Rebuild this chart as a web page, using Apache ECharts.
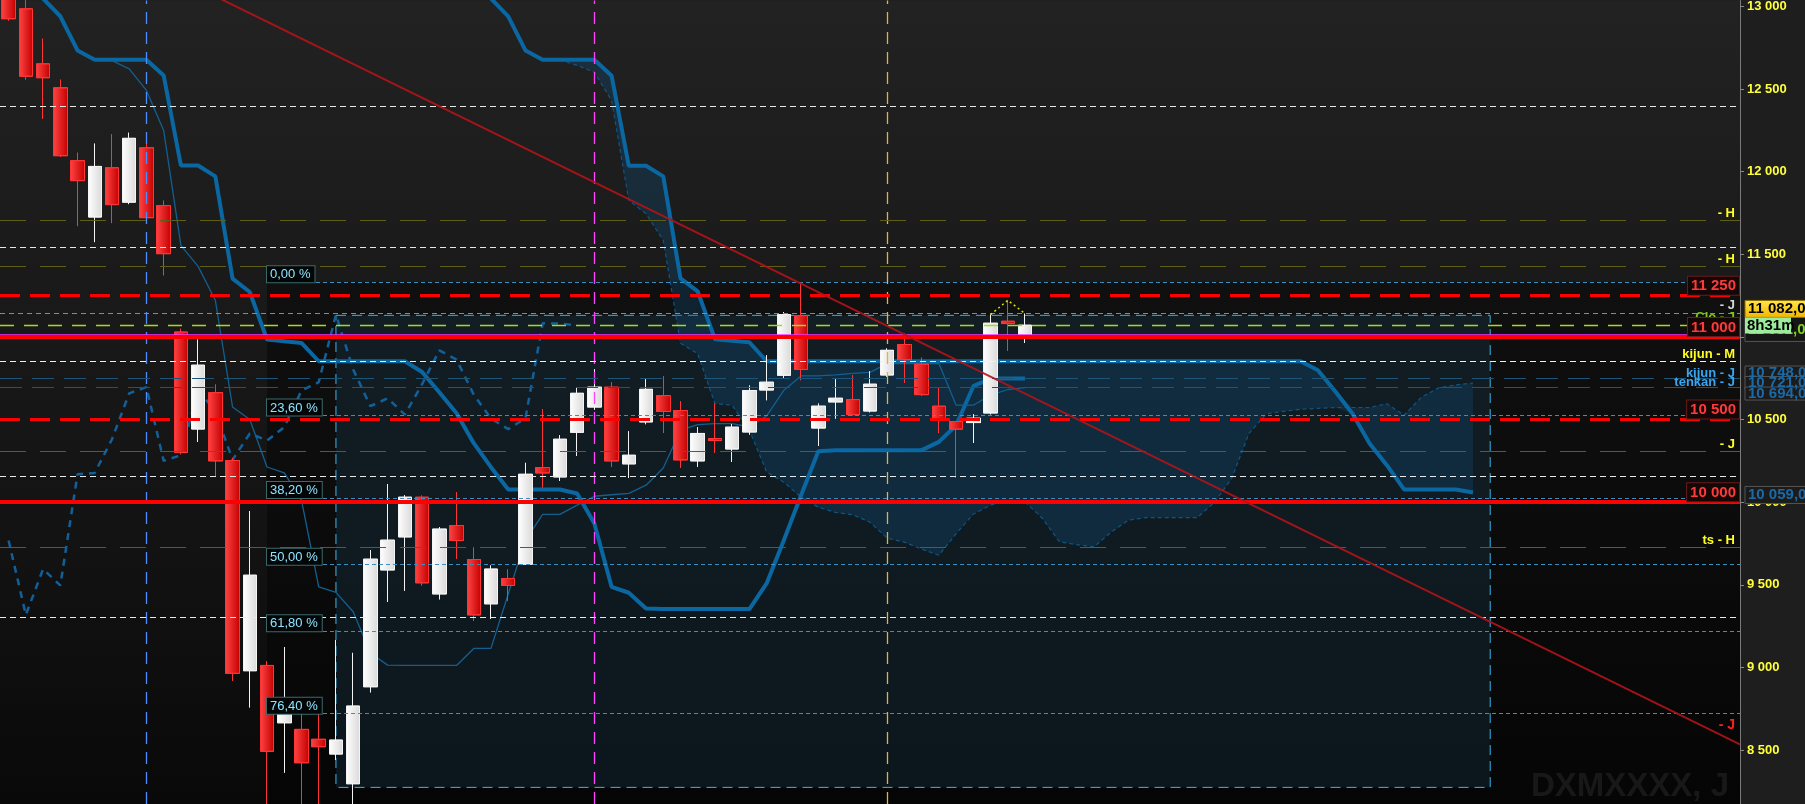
<!DOCTYPE html>
<html><head><meta charset="utf-8">
<script src="https://cdn.jsdelivr.net/npm/echarts@6/dist/echarts.min.js"></script>
<style>html,body{margin:0;padding:0;background:#1e1e1e;overflow:hidden}#c{width:1805px;height:804px;}</style>
</head><body><div id="c"></div>
<script>
// ---------------- DATA ----------------
const opens  = [13120,12986,12653,12508,12067,11726,12024,11816,12145,11795,11030,10443,10663,10252,8980,9012,8665,8625,8565,8476,8296,8883,9590,9790,10030,9445,9859,9653,9385,9538,9625,10210,10153,10423,10576,10696,10232,10486,10645,10555,10250,10385,10322,10425,10679,10768,11129,10449,10607,10621,10552,10770,10954,10835,10581,10488,10482,10540,11095,11000];
const highs  = [13160,13060,12805,12557,12115,12170,12226,12236,12173,11825,11050,10984,10712,10268,9946,9038,9123,8720,8720,9165,9088,9710,10109,10042,10040,9849,10061,9726,9617,9593,10238,10562,10405,10690,10804,10726,10429,10744,10762,10611,10455,10597,10472,10706,10889,11151,11329,10597,10744,10768,10792,10930,11020,10875,10696,10490,10532,11135,11222,11141];
const lows   = [12915,12558,12321,12089,11671,11574,11689,11804,11695,11373,10290,10365,10153,8919,8758,8050,8363,7913,8080,8440,8120,8849,9397,9464,9496,9412,9657,9282,9294,9403,9620,10089,10129,10280,10560,10214,10147,10472,10419,10207,10214,10298,10244,10409,10617,10746,10738,10341,10506,10525,10544,10760,10722,10645,10419,10149,10359,10532,10915,10964];
const closes = [12926,12578,12569,12097,11946,12032,11801,12202,11722,11504,10301,10829,10250,8964,9558,8492,8718,8423,8520,8560,8766,9655,9770,10030,9512,9837,9768,9318,9595,9496,10169,10177,10381,10659,10696,10250,10284,10683,10549,10256,10416,10373,10454,10676,10726,11135,10803,10581,10629,10530,10714,10919,10863,10651,10506,10442,10508,11083,11081,11071];

const kijun = [13300,13150,13048,12941,12734,12678,12678,12678,12678,12583,12038,12038,11972,11353,11272,10984,10974,10964,10853,10853,10853,10853,10853,10853,10788,10665,10538,10357,10212,10077,10077,10077,10077,10053,9871,9488,9452,9357,9353,9353,9353,9353,9353,9353,9508,9770,10042,10308,10315,10315,10315,10315,10315,10315,10365,10466,10702,10748,10748,10748];
const tenkanStart = 6;
const tenkan = [12672,12623,12492,12250,11554,11427,11222,10576,10500,10213,10177,10012,9488,9454,9337,9087,9014,9012,9012,9012,9012,9115,9115,9444,9770,9926,9926,9982,10036,10045,10053,10103,10207,10436,10470,10475,10476,10455,10522,10677,10764,10764,10771,10780,10786,10839,10839,10839,10839,10587,10587,10648,10682,10694];
const senkouBStart = 26;
const senkouB = [13300,13150,13048,12940,12734,12678,12678,12678,12678,12581,12036,12036,11972,11355,11276,10986,10977,10968,
  10853,10853,10853,10853,10853,10853,10853,10853,10853,10853,10853,10853,10853,10853,10853,10853,10853,10853,10853,10853,10853,10853,10853,10853,10853,10853,10853,10853,10853,10853,10853,10853,
  10798,10671,10537,10355,10224,10077,10077,10077,10077,10059];
const senkouAStart = 32;
const senkouA = [12678,12643,12603,12431,11827,11746,11585,10962,10899,10597,10587,10436,10183,10121,10030,9970,9938,9924,9879,9782,9758,9716,9679,9810,9928,9982,10012,10002,9903,9760,9743,9730,9819,9891,9907,9907,9907,9907,10000,10145,10417,10535,10550,10562,10568,10573,10573,10573,10596,10526,10635,10692,10710,10721];
const chikouShift = 26;

const slotCount = 101;
const yTicks = [8500,9000,9500,10000,10500,11000,11500,12000,12500,13000];

const fibHigh = 11331, fibLow = 7913, fibStartIdx = 15;
const fibRatios = [0, 0.236, 0.382, 0.5, 0.618, 0.764];
const fibLabels = ['0,00 %','23,60 %','38,20 %','50,00 %','61,80 %','76,40 %'];

const redLevels = [11250, 11000, 10500, 10000];
const redLabels = ['11 250','11 000','10 500','10 000'];
const oliveLevels = [11704, 11426, 10306, 9726];
const oliveLabels = ['- H','- H','- J','ts - H'];
const whiteLevels = [12399, 11540, 10155, 9302];
const kijunMLevel = 10851;
const blueLevels = [10748, 10694];
const blueLabels = ['kijun - J','tenkan - J'];
const grayLevel = 11143;
const closeLevel = 11069;
const magentaLevel = 11012;
const verticalIdx = [8, 34, 51];
const trendLine = [[-0.5, 13701], [100.5, 8534]];
const rangeBox = [19, 11131, 86, 8274];
const lastPrice = 11082;
const ichiTags = [10748, 10721, 10694];
const ichiTagTexts = ['10 748,00','10 721,00','10 694,00'];
const senkouBTag = 10059;

// ---------------- BUILD ----------------
const Y_MIN = 8173.4, Y_MAX = 13036.3;
const cats = Array.from({length: slotCount}, (_, i) => String(i));
function pad(start, arr) {
  const out = new Array(slotCount).fill('-');
  arr.forEach((v, k) => { out[start + k] = v; });
  return out;
}
const candleData = opens.map((o, i) => [o, closes[i], lows[i], highs[i]]);
const chikou = pad(0, closes.slice(chikouShift));
const cloudBase = new Array(slotCount).fill('-');
const cloudBand = new Array(slotCount).fill('-');
senkouA.forEach((a, k) => {
  const i = senkouAStart + k;
  const b = senkouB[i - senkouBStart];
  cloudBase[i] = Math.min(a, b);
  cloudBand[i] = Math.abs(a - b);
});
const triangle = new Array(slotCount).fill('-');
[57, 58, 59].forEach(i => { triangle[i] = highs[i]; });

const fmt = v => String(v).replace(/\B(?=(\d{3})+(?!\d))/g, ' ');
const FONT = 'Liberation Sans';

function textLabel(txt, color) {
  return { show: true, position: 'insideEndTop', formatter: txt, color, fontSize: 13, fontWeight: 'bold', fontFamily: FONT, distance: [5, 1] };
}
const hLines = [];
whiteLevels.forEach(v => hLines.push({ yAxis: v, lineStyle: { color: '#e8e8e8', width: 1, type: [6, 4] }, label: { show: false } }));
hLines.push({ yAxis: kijunMLevel, lineStyle: { color: '#f4f4d0', width: 1, type: [6, 4] }, label: textLabel('kijun - M', '#ffff22') });
oliveLevels.forEach((v, k) => hLines.push({ yAxis: v, lineStyle: { color: '#5e5e16', width: 1.2, type: [26, 14] }, label: textLabel(oliveLabels[k], '#ffff22') }));
blueLevels.forEach((v, k) => hLines.push({ yAxis: v, lineStyle: { color: '#1c5578', width: 1.2, type: [22, 10] }, label: Object.assign(textLabel(blueLabels[k], '#3aa6f0'), { distance: [5, -1] }) }));
hLines.push({ yAxis: grayLevel, lineStyle: { color: '#8a8a8a', width: 1, type: [5, 4] }, label: textLabel('- J', '#d8d8d8') });
hLines.push({ yAxis: closeLevel, lineStyle: { color: '#a6dc1c', width: 1.3, type: [14, 10] }, label: Object.assign(textLabel('Clo - J', '#7fc41a'), { distance: [5, 2] }) });
hLines.push({ yAxis: magentaLevel, lineStyle: { color: '#ff33ff', width: 1.5, type: 'solid' }, label: { show: false } });
redLevels.forEach((v, k) => hLines.push({
  yAxis: v,
  lineStyle: { color: '#ff0000', width: v % 1000 === 0 ? 4 : 3, type: (k % 2 === 0) ? [20, 10] : 'solid' },
  label: { show: true, position: 'insideEndTop', formatter: redLabels[k], color: '#ff3a3a', fontSize: 15, fontWeight: 'bold', fontFamily: FONT,
           backgroundColor: '#160707', borderColor: '#6a1b1b', borderWidth: 1, padding: [2, 3, 1, 3], distance: [1, 1] }
}));
// fibonacci levels
const fibLines = fibRatios.map((r, k) => {
  const v = fibHigh - r * (fibHigh - fibLow);
  return [
    { coord: [fibStartIdx, v], lineStyle: { color: '#3a8fc0', width: 1, type: [4, 3] },
      label: { show: true, position: 'insideStartTop', formatter: fibLabels[k], color: '#8fe4ff', fontSize: 13, fontFamily: FONT,
               backgroundColor: '#020606', borderColor: '#3c6a6a', borderWidth: 1, padding: [2, 4, 1, 3], distance: [0, 0] } },
    { coord: [slotCount - 0.5, v] }
  ];
});
const vLines = verticalIdx.map((x, k) => ({
  xAxis: x, lineStyle: { color: ['#4d8dff', '#ff44ff', '#e8b23a'][k], width: 1.3, type: [12, 8] }, label: { show: false }
}));

const chart = echarts.init(document.getElementById('c'), null, { renderer: 'canvas' });
const ichiColor = '#0b67a2';
chart.setOption({
  animation: false,
  backgroundColor: '#1e1e1e',
  grid: { left: 0, right: 65, top: 0, bottom: 0, show: true, borderWidth: 0,
    backgroundColor: { type: 'linear', x: 0, y: 0, x2: 0, y2: 1, colorStops: [
      { offset: 0, color: '#222222' }, { offset: 0.35, color: '#1a1a1a' }, { offset: 0.7, color: '#121212' }, { offset: 1, color: '#090909' }] } },
  xAxis: [
    { type: 'category', data: cats, show: false, boundaryGap: true },
    { type: 'value', min: -0.5, max: slotCount - 0.5, show: false }
  ],
  yAxis: {
    type: 'value', position: 'right', min: Y_MIN, max: Y_MAX,
    splitLine: { show: false },
    axisLine: { show: true, onZero: false, lineStyle: { color: '#7a7a7a', width: 1 } },
    axisTick: { show: true, length: 4, customValues: yTicks, lineStyle: { color: '#8a8a8a' } },
    axisLabel: { customValues: yTicks, formatter: v => fmt(v), color: '#ffff3c', fontSize: 13, fontWeight: 'bold', fontFamily: FONT, margin: 7 }
  },
  series: [
    { name: 'zones', type: 'line', xAxisIndex: 1, data: [[-0.5, fibHigh]], showSymbol: false, symbol: 'none', lineStyle: { width: 0 }, z: 1, silent: true,
      markArea: { silent: true, data: [
        [{ xAxis: fibStartIdx, yAxis: fibHigh, itemStyle: { color: 'rgba(0,0,0,0.38)' } }, { xAxis: slotCount - 0.5, yAxis: Y_MIN }],
        [{ xAxis: rangeBox[0], yAxis: rangeBox[1], itemStyle: { color: 'rgba(34,80,105,0.24)', borderColor: '#3cb2ea', borderWidth: 1, borderType: [10, 6] } }, { xAxis: rangeBox[2], yAxis: rangeBox[3] }]
      ] } },
    { name: 'cloudBase', type: 'line', data: cloudBase, stack: 'cloud', symbol: 'none', lineStyle: { width: 0 }, z: 2, silent: true },
    { name: 'cloudBand', type: 'line', data: cloudBand, stack: 'cloud', symbol: 'none', lineStyle: { width: 0 }, areaStyle: { color: 'rgba(12,82,130,0.42)' }, z: 2, silent: true },
    { name: 'senkouA', type: 'line', data: pad(senkouAStart, senkouA), symbol: 'none', lineStyle: { color: '#0e5584', width: 1.2, type: [4, 3] }, z: 3 },
    { name: 'senkouB', type: 'line', data: pad(senkouBStart, senkouB), symbol: 'none', lineStyle: { color: ichiColor, width: 4 }, z: 3 },
    { name: 'kijun', type: 'line', data: pad(0, kijun), symbol: 'none', lineStyle: { color: ichiColor, width: 4 }, z: 3 },
    { name: 'tenkan', type: 'line', data: pad(tenkanStart, tenkan), symbol: 'none', lineStyle: { color: '#135f90', width: 1.3 }, z: 3 },
    { name: 'chikou', type: 'line', data: chikou, symbol: 'none', lineStyle: { color: '#12609a', width: 2.5, type: [7, 6] }, z: 3 },
    { name: 'price', type: 'candlestick', data: candleData, barWidth: 14, z: 4,
      itemStyle: {
        color: { type: 'linear', x: 0, y: 0, x2: 1, y2: 0, colorStops: [{ offset: 0, color: '#ffffff' }, { offset: 1, color: '#d9d9d9' }] },
        color0: { type: 'linear', x: 0, y: 0, x2: 1, y2: 0, colorStops: [{ offset: 0, color: '#ff4444' }, { offset: 1, color: '#c40000' }] },
        borderColor: '#f4f4f4', borderColor0: '#ff3535', borderWidth: 1 } },
    { name: 'levels', type: 'line', xAxisIndex: 1, data: [[-0.5, fibHigh]], showSymbol: false, symbol: 'none', lineStyle: { width: 0 }, z: 5, silent: true,
      markLine: { silent: true, symbol: ['none', 'none'], animation: false, data: [...vLines, ...hLines, ...fibLines] } },
    { name: 'trend', type: 'line', xAxisIndex: 1, data: trendLine, symbol: 'none', lineStyle: { color: '#b0141a', width: 2, opacity: 0.9 }, z: 6 },
    { name: 'hiMarks', type: 'line', data: triangle, symbol: 'none', lineStyle: { color: '#e6e600', width: 1.5, type: [2, 3] }, z: 6 }
  ]
});

// ---------------- ANNOTATIONS (positions from the chart's own scales) ----------------
const yPx = v => chart.convertToPixel({ yAxisIndex: 0 }, v);
const xPx = i => chart.convertToPixel({ xAxisIndex: 1 }, i);
const axisX = xPx(slotCount - 0.5);
const g = [];
function tag(y0, h, fill, stroke, txt, color, w) {
  g.push({ type: 'rect', z: 20, shape: { x: axisX + 5, y: y0, width: w || 70, height: h }, style: { fill, stroke: stroke || null, lineWidth: 1 } });
  g.push({ type: 'text', z: 21, x: axisX + 8, y: y0 + h / 2, style: { text: txt, fill: color, font: 'bold 15px "' + FONT + '"', textVerticalAlign: 'middle' } });
}
// Senkou B tag
tag(yPx(senkouBTag) - 6, 17, '#1b1b1b', '#555555', fmt(senkouBTag) + ',00', '#1b6aa6');
// ichimoku tags (stacked)
const midY = yPx(ichiTags[1]);
ichiTags.forEach((v, k) => tag(midY + (k - 1) * 10.5 - 6.5, 13, '#1b1b1b', '#555555', ichiTagTexts[k], '#1b6aa6'));
// last price tags
const yc = yPx(lastPrice);
tag(yc - 6, 24, '#161616', '#555555', fmt(lastPrice) + ',00', '#7cd21c');
g.push({ type: 'rect', z: 22, shape: { x: axisX + 5, y: yc - 23, width: 70, height: 17 },
  style: { fill: { type: 'linear', x: 0, y: 0, x2: 0, y2: 1, colorStops: [{ offset: 0, color: '#ffe84a' }, { offset: 1, color: '#f2b400' }] }, stroke: '#8a6d00' } });
g.push({ type: 'text', z: 23, x: axisX + 8, y: yc - 14.5, style: { text: fmt(lastPrice) + ',00', fill: '#000', font: 'bold 15px "' + FONT + '"', textVerticalAlign: 'middle' } });
g.push({ type: 'rect', z: 24, shape: { x: axisX + 5, y: yc - 6, width: 46, height: 16 }, style: { fill: '#9cec9c' } });
g.push({ type: 'text', z: 25, x: axisX + 7, y: yc + 2, style: { text: '8h31m', fill: '#000', font: 'bold 15px "' + FONT + '"', textVerticalAlign: 'middle' } });
// trendline label
const tEnd = trendLine[1], tStart = trendLine[0];
const tIdx = slotCount - 1.3;
const tVal = tStart[1] + (tEnd[1] - tStart[1]) * (tIdx - tStart[0]) / (tEnd[0] - tStart[0]);
g.push({ type: 'text', z: 20, x: axisX - 5, y: yPx(tVal) - 6, style: { text: '- J', fill: '#ff2020', font: 'bold 14px "' + FONT + '"', textAlign: 'right', textVerticalAlign: 'bottom' } });
// watermark
g.push({ type: 'text', z: 0, x: axisX - 11, y: 803, style: { text: 'DXMXXXX, J', fill: '#272727', font: 'bold 33px "' + FONT + '"', textAlign: 'right', textVerticalAlign: 'bottom' } });
chart.setOption({ graphic: g });
</script>
</body></html>
